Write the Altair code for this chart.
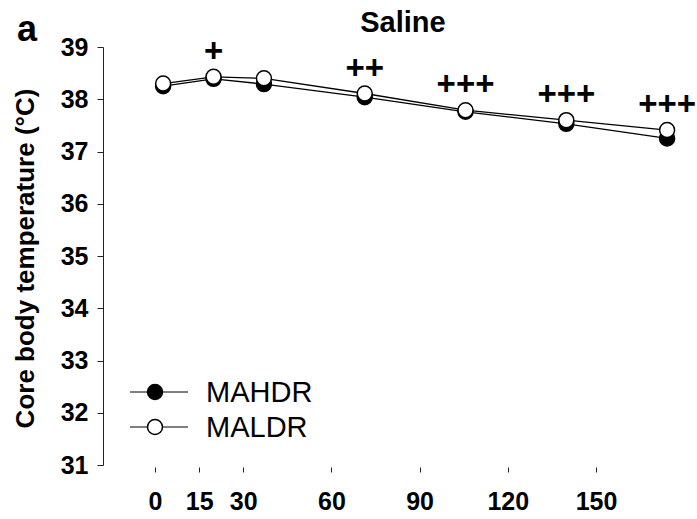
import altair as alt
import pandas as pd

# Sampling times (min) and mean core body temperature (°C) per group
TIME_MIN = [0, 15, 30, 60, 90, 120, 150]
MAHDR = [38.25, 38.39, 38.29, 38.04, 37.76, 37.53, 37.25]
MALDR = [38.30, 38.43, 38.40, 38.11, 37.79, 37.60, 37.41]
SIGNIF = ["", "+", "", "++", "+++", "+++", "+++"]

SERIES = ["MAHDR", "MALDR"]
SERIES_FILL = ["black", "white"]
X_TICKS = [0, 15, 30, 60, 90, 120, 150]
Y_TICKS = [31, 32, 33, 34, 35, 36, 37, 38, 39]

FONT = "Liberation Sans"

long_df = pd.DataFrame(
    {
        "time": TIME_MIN * 2,
        "temp": MAHDR + MALDR,
        "group": [SERIES[0]] * len(TIME_MIN) + [SERIES[1]] * len(TIME_MIN),
    }
)
sig_df = pd.DataFrame({"time": TIME_MIN, "temp": MALDR, "sig": SIGNIF})
tick_df = pd.DataFrame({"t": X_TICKS})

data_x = alt.Scale(domain=[-17.9, 158.9], nice=False, zero=False)
y_scale = alt.Scale(domain=[31, 39], nice=False, zero=False)

y_enc = alt.Y(
    "temp:Q",
    scale=y_scale,
    axis=alt.Axis(
        values=Y_TICKS,
        title="Core body temperature (°C)",
        titleFont=FONT,
        titleFontSize=26,
        titleFontWeight="bold",
        titleColor="black",
        titleAngle=-90,
        titleX=-78,
        titleY=211,
        titleAlign="center",
        titleBaseline="middle",
        labelFont=FONT,
        labelFontSize=25,
        labelFontWeight="bold",
        labelColor="black",
        labelPadding=9,
        tickSize=6,
        tickColor="#222",
        domainColor="#222",
        grid=False,
    ),
)

lines = alt.Chart(long_df).mark_line(color="black", strokeWidth=1.3).encode(
    x=alt.X(
        "time:Q",
        scale=data_x,
        axis=alt.Axis(
            orient="bottom", ticks=False, labels=False, grid=False, title=None,
            domainColor="#222",
        ),
    ),
    y=y_enc,
    detail="group:N",
)

points = alt.Chart(long_df).mark_point(
    shape="circle", size=225, stroke="black", strokeWidth=1.5, opacity=1, filled=False
).encode(
    x=alt.X("time:Q", scale=data_x, axis=None),
    y=alt.Y("temp:Q", scale=y_scale),
    fill=alt.Fill(
        "group:N", scale=alt.Scale(domain=SERIES, range=SERIES_FILL), legend=None
    ),
)

signif = alt.Chart(sig_df).mark_text(
    font=FONT, fontSize=33, fontWeight="bold", color="black", dy=-25,
    baseline="middle", align="center",
).encode(
    x=alt.X("time:Q", scale=data_x, axis=None),
    y=alt.Y("temp:Q", scale=y_scale),
    text="sig:N",
)

# Legend: line with marker, then series name
legend_layers = []
for i, (name, fill) in enumerate(zip(SERIES, SERIES_FILL)):
    ly = 345 + i * 35
    legend_layers.append(
        alt.Chart(pd.DataFrame({"s": [name]})).mark_rule(color="black", strokeWidth=1).encode(
            x=alt.value(27), x2=alt.value(85), y=alt.value(ly)
        )
    )
    legend_layers.append(
        alt.Chart(pd.DataFrame({"s": [name]})).mark_point(
            shape="circle", size=225, stroke="black", strokeWidth=1.5, fill=fill, opacity=1
        ).encode(x=alt.value(52), y=alt.value(ly))
    )
    legend_layers.append(
        alt.Chart(pd.DataFrame({"s": [name]})).mark_text(
            font=FONT, fontSize=29, color="black", align="left", baseline="middle"
        ).encode(x=alt.value(103), y=alt.value(ly + 1), text="s:N")
    )

panel_label = alt.Chart(pd.DataFrame({"s": ["a"]})).mark_text(
    font=FONT, fontSize=36, fontWeight="bold", color="black", align="left",
    baseline="alphabetic",
).encode(x=alt.value(-86), y=alt.value(-6), text="s:N")

panel_title = alt.Chart(pd.DataFrame({"s": ["Saline"]})).mark_text(
    font=FONT, fontSize=29, fontWeight="bold", color="black", align="center",
    baseline="alphabetic",
).encode(x=alt.value(300), y=alt.value(-15), text="s:N")

data_layer = alt.layer(lines, points, signif, *legend_layers, panel_label, panel_title)

# Time axis with labelled ticks
tick_layer = alt.Chart(tick_df).mark_point(opacity=0).encode(
    x=alt.X(
        "t:Q",
        scale=alt.Scale(domain=[-17.7, 184.35], nice=False, zero=False),
        axis=alt.Axis(
            orient="bottom",
            values=X_TICKS,
            offset=2,
            domain=False,
            tickSize=5,
            tickColor="#222",
            labelFont=FONT,
            labelFontSize=25,
            labelFontWeight="bold",
            labelColor="black",
            labelPadding=17,
            grid=False,
            title=None,
        ),
    ),
    y=alt.value(0),
)

chart = (
    alt.layer(data_layer, tick_layer)
    .resolve_scale(x="independent")
    .properties(
        width=594,
        height=418,
        padding={"left": 103, "top": 47, "right": 0, "bottom": 54},
        autosize=alt.AutoSizeParams(type="none"),
        background="white",
    )
    .configure_view(stroke=None)
)

chart.save("out.html", embed_options={"renderer": "svg", "actions": False})
